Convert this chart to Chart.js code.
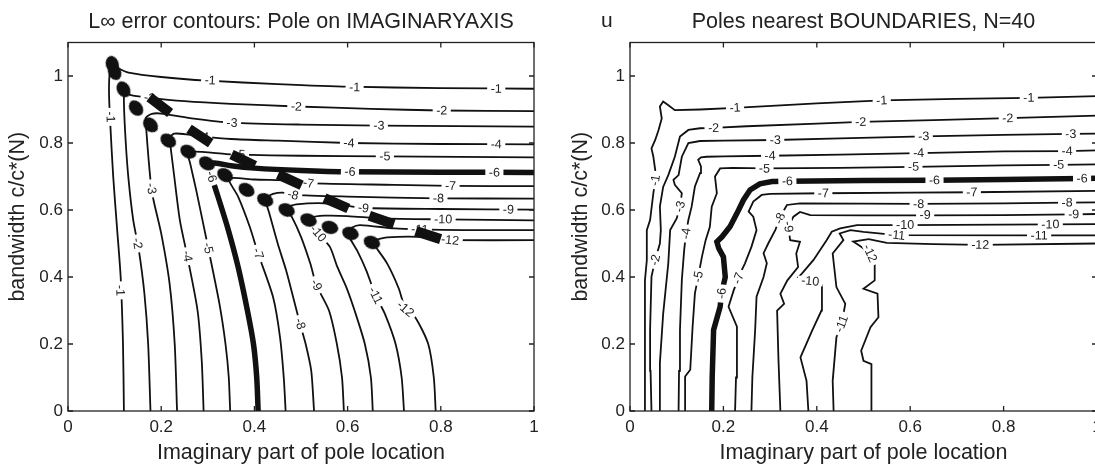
<!DOCTYPE html>
<html>
<head>
<meta charset="utf-8">
<script src="https://cdn.jsdelivr.net/npm/chart.js@4.4.1/dist/chart.umd.min.js"></script>
<style>
  html, body { margin: 0; padding: 0; background: #fff; overflow: hidden; width: 1095px; height: 464px; }
  #left { position: absolute; left: 0; top: 0; }
  #right { position: absolute; left: 548px; top: 0; }
  #u { position: absolute; left: 601px; top: 8px; font: 21px "Liberation Sans", Arial, sans-serif; color: #222; }
</style>
</head>
<body>
<canvas id="left" width="548" height="464"></canvas>
<canvas id="right" width="560" height="464"></canvas>
<div id="u">u</div>
<script>
// ===== axes =====
const X_TICKS = [0, 0.2, 0.4, 0.6, 0.8, 1];
const X_TICK_LABELS = ["0", "0.2", "0.4", "0.6", "0.8", "1"];
const Y_TICKS = [0, 0.2, 0.4, 0.6, 0.8, 1];
const Y_TICK_LABELS = ["0", "0.2", "0.4", "0.6", "0.8", "1"];
const LEVELS = [-1, -2, -3, -4, -5, -6, -7, -8, -9, -10, -11, -12];
const THICK_LEVEL = -6;

// ===== left panel: pole on imaginary axis =====
const L1 = [[0.12,0],[0.118,0.2],[0.113,0.4],[0.105,0.55],[0.097,0.7],[0.091,0.85],[0.088,0.95],[0.09,1.01],[0.1,1.025],[0.13,1.01],[0.2,0.997],[0.3,0.986],[0.45,0.976],[0.6,0.968],[0.8,0.964],[1,0.962]];
const L2 = [[0.177,0],[0.172,0.2],[0.164,0.35],[0.152,0.48],[0.14,0.57],[0.13,0.69],[0.124,0.8],[0.12,0.92],[0.122,0.95],[0.135,0.943],[0.175,0.935],[0.25,0.925],[0.35,0.917],[0.49,0.909],[0.65,0.902],[0.8,0.897],[1,0.895]];
const L3 = [[0.234,0],[0.229,0.2],[0.218,0.38],[0.2,0.53],[0.185,0.62],[0.179,0.664],[0.173,0.75],[0.168,0.84],[0.167,0.875],[0.18,0.887],[0.2,0.888],[0.27,0.873],[0.35,0.861],[0.5,0.855],[0.667,0.852],[1,0.849]];
const L4 = [[0.291,0],[0.287,0.15],[0.278,0.3],[0.256,0.462],[0.24,0.57],[0.228,0.7],[0.22,0.79],[0.218,0.815],[0.228,0.828],[0.26,0.825],[0.29,0.819],[0.35,0.812],[0.45,0.807],[0.603,0.8],[0.8,0.797],[1,0.796]];
const L5 = [[0.348,0],[0.345,0.1],[0.338,0.2],[0.325,0.32],[0.301,0.486],[0.29,0.56],[0.275,0.66],[0.262,0.74],[0.258,0.765],[0.268,0.774],[0.34,0.767],[0.37,0.765],[0.5,0.762],[0.68,0.76],[1,0.757]];
const L6 = [[0.408,0],[0.405,0.1],[0.398,0.2],[0.385,0.3],[0.365,0.43],[0.342,0.55],[0.315,0.67],[0.308,0.7],[0.302,0.735],[0.315,0.74],[0.35,0.732],[0.4,0.725],[0.5,0.718],[0.605,0.714],[0.8,0.713],[1,0.712]];
const L7 = [[0.467,0],[0.463,0.1],[0.455,0.22],[0.44,0.34],[0.408,0.47],[0.39,0.55],[0.365,0.64],[0.345,0.69],[0.355,0.696],[0.4,0.691],[0.476,0.688],[0.516,0.68],[0.7,0.675],[0.821,0.672],[1,0.671]];
const L8 = [[0.528,0],[0.522,0.12],[0.51,0.2],[0.498,0.26],[0.485,0.33],[0.468,0.42],[0.45,0.5],[0.432,0.59],[0.425,0.625],[0.43,0.64],[0.44,0.648],[0.46,0.652],[0.483,0.645],[0.6,0.64],[0.795,0.635],[1,0.634]];
const L9 = [[0.592,0],[0.588,0.1],[0.577,0.2],[0.56,0.3],[0.533,0.376],[0.52,0.44],[0.5,0.52],[0.48,0.58],[0.472,0.595],[0.475,0.61],[0.49,0.617],[0.55,0.62],[0.6,0.612],[0.634,0.606],[0.8,0.603],[1,0.601]];
const L10 = [[0.654,0],[0.65,0.1],[0.637,0.2],[0.615,0.3],[0.598,0.367],[0.578,0.43],[0.562,0.49],[0.537,0.53],[0.522,0.56],[0.525,0.578],[0.55,0.583],[0.6,0.582],[0.673,0.575],[0.805,0.572],[1,0.569]];
const L11 = [[0.721,0],[0.716,0.1],[0.703,0.2],[0.68,0.29],[0.66,0.345],[0.64,0.42],[0.62,0.48],[0.605,0.515],[0.6,0.53],[0.61,0.548],[0.627,0.555],[0.7,0.545],[0.755,0.542],[0.85,0.54],[1,0.54]];
const L12 = [[0.789,0],[0.785,0.1],[0.773,0.2],[0.745,0.28],[0.724,0.305],[0.71,0.365],[0.685,0.44],[0.66,0.49],[0.652,0.505],[0.66,0.51],[0.685,0.518],[0.75,0.52],[0.8,0.513],[0.82,0.51],[1,0.51]];
const LEFT_LINES = [L1, L2, L3, L4, L5, L6, L7, L8, L9, L10, L11, L12];

// round blobs and square dashes along the corner diagonal
const LEFT_BLOBS = [[0.095,1.035],[0.1,1.012],[0.119,0.96],[0.146,0.904],[0.177,0.854],[0.215,0.807],[0.258,0.774],[0.298,0.739],[0.337,0.704],[0.383,0.66],[0.423,0.63],[0.469,0.6],[0.516,0.57],[0.562,0.548],[0.606,0.53],[0.652,0.503]];
const LEFT_BARS = [[0.197,0.913],[0.283,0.821],[0.376,0.749],[0.476,0.69],[0.576,0.62],[0.673,0.57],[0.773,0.525]];

// contour labels: [level, x, y]
const LEFT_LABELS = [
  [-1,0.305,0.987],[-1,0.615,0.966],[-1,0.919,0.962],[-1,0.091,0.878],[-1,0.112,0.36],
  [-2,0.175,0.935],[-2,0.49,0.909],[-2,0.802,0.897],[-2,0.149,0.5],
  [-3,0.352,0.86],[-3,0.667,0.852],[-3,0.179,0.664],
  [-4,0.29,0.819],[-4,0.603,0.8],[-4,0.919,0.796],[-4,0.256,0.462],
  [-5,0.369,0.766],[-5,0.68,0.76],[-5,0.301,0.486],
  [-6,0.605,0.714],[-6,0.915,0.712],[-6,0.308,0.7],
  [-7,0.516,0.68],[-7,0.821,0.672],[-7,0.408,0.47],
  [-8,0.483,0.645],[-8,0.795,0.635],[-8,0.498,0.26],
  [-9,0.634,0.606],[-9,0.945,0.601],[-9,0.533,0.376],
  [-10,0.805,0.572],[-10,0.537,0.53],
  [-11,0.755,0.542],[-11,0.66,0.345],
  [-12,0.82,0.51],[-12,0.724,0.305]
];

// ===== right panel: poles nearest boundaries, N=40 =====
const R1 = [[0.032,0],[0.032,0.2],[0.032,0.39],[0.036,0.45],[0.036,0.54],[0.043,0.57],[0.05,0.65],[0.054,0.689],[0.054,0.719],[0.05,0.759],[0.046,0.784],[0.054,0.809],[0.061,0.838],[0.068,0.873],[0.064,0.909],[0.071,0.924],[0.08,0.915],[0.096,0.898],[0.15,0.9],[0.225,0.905],[0.4,0.918],[0.539,0.927],[0.7,0.932],[0.854,0.935],[1,0.94]];
const R2 = [[0.046,0],[0.044,0.12],[0.043,0.242],[0.046,0.401],[0.054,0.451],[0.064,0.5],[0.066,0.54],[0.064,0.61],[0.071,0.669],[0.082,0.704],[0.096,0.759],[0.107,0.819],[0.125,0.839],[0.15,0.844],[0.179,0.845],[0.25,0.85],[0.4,0.858],[0.494,0.863],[0.65,0.868],[0.809,0.874],[1,0.882]];
const R3 = [[0.064,0],[0.064,0.143],[0.071,0.29],[0.082,0.441],[0.086,0.54],[0.1,0.575],[0.107,0.61],[0.111,0.65],[0.096,0.675],[0.093,0.69],[0.104,0.704],[0.111,0.759],[0.125,0.8],[0.15,0.806],[0.2,0.807],[0.311,0.809],[0.45,0.814],[0.629,0.82],[0.8,0.824],[0.944,0.827],[1,0.828]];
const R4 = [[0.104,0],[0.105,0.12],[0.107,0.242],[0.111,0.391],[0.116,0.48],[0.12,0.53],[0.125,0.57],[0.132,0.61],[0.139,0.67],[0.15,0.71],[0.152,0.73],[0.146,0.75],[0.152,0.757],[0.164,0.759],[0.2,0.76],[0.3,0.762],[0.45,0.765],[0.618,0.77],[0.8,0.775],[0.936,0.776],[1,0.778]];
const R5 = [[0.118,0],[0.118,0.103],[0.129,0.123],[0.134,0.25],[0.139,0.351],[0.146,0.401],[0.154,0.46],[0.162,0.51],[0.171,0.55],[0.175,0.61],[0.186,0.65],[0.182,0.7],[0.193,0.724],[0.22,0.726],[0.288,0.724],[0.45,0.726],[0.607,0.729],[0.8,0.733],[0.918,0.735],[1,0.736]];
const R6 = [[0.175,0],[0.176,0.1],[0.179,0.242],[0.193,0.311],[0.196,0.351],[0.204,0.4],[0.2,0.46],[0.19,0.486],[0.186,0.505],[0.197,0.52],[0.214,0.55],[0.229,0.59],[0.243,0.63],[0.257,0.66],[0.278,0.678],[0.304,0.685],[0.337,0.686],[0.5,0.688],[0.652,0.689],[0.8,0.691],[0.968,0.694],[1,0.695]];
const R7 = [[0.225,0],[0.227,0.1],[0.229,0.252],[0.211,0.311],[0.222,0.36],[0.232,0.396],[0.239,0.42],[0.246,0.44],[0.26,0.49],[0.271,0.54],[0.264,0.58],[0.254,0.595],[0.264,0.625],[0.282,0.645],[0.3,0.648],[0.414,0.65],[0.6,0.652],[0.732,0.653],[1,0.657]];
const R8 = [[0.26,0],[0.262,0.1],[0.268,0.242],[0.271,0.341],[0.286,0.4],[0.293,0.441],[0.286,0.471],[0.296,0.5],[0.311,0.54],[0.321,0.575],[0.33,0.6],[0.336,0.615],[0.364,0.62],[0.5,0.619],[0.618,0.618],[0.8,0.62],[0.936,0.622],[1,0.623]];
const R9 = [[0.322,0],[0.318,0.15],[0.315,0.3],[0.33,0.32],[0.322,0.35],[0.337,0.39],[0.36,0.43],[0.356,0.47],[0.364,0.505],[0.343,0.51],[0.339,0.55],[0.35,0.58],[0.364,0.594],[0.386,0.585],[0.5,0.584],[0.632,0.584],[0.8,0.585],[0.95,0.587],[1,0.588]];
const R10 = [[0.382,0],[0.378,0.09],[0.365,0.16],[0.39,0.24],[0.41,0.3],[0.411,0.376],[0.396,0.396],[0.361,0.4],[0.368,0.41],[0.393,0.451],[0.421,0.51],[0.432,0.535],[0.45,0.545],[0.486,0.555],[0.589,0.555],[0.9,0.557],[1,0.558]];
const R11 = [[0.436,0],[0.434,0.09],[0.442,0.22],[0.453,0.26],[0.461,0.32],[0.442,0.37],[0.434,0.47],[0.457,0.51],[0.449,0.53],[0.472,0.54],[0.5,0.535],[0.571,0.525],[0.876,0.524],[1,0.524]];
const R12 = [[0.518,0],[0.517,0.14],[0.5,0.15],[0.495,0.18],[0.515,0.25],[0.532,0.28],[0.53,0.35],[0.5,0.365],[0.524,0.39],[0.524,0.44],[0.514,0.471],[0.495,0.49],[0.478,0.506],[0.511,0.513],[0.55,0.502],[0.65,0.498],[0.75,0.496],[1,0.5]];
const RIGHT_LINES = [R1, R2, R3, R4, R5, R6, R7, R8, R9, R10, R11, R12];

const RIGHT_LABELS = [
  [-1,0.225,0.905],[-1,0.539,0.927],[-1,0.854,0.935],[-1,0.054,0.689],
  [-2,0.179,0.845],[-2,0.494,0.863],[-2,0.809,0.874],[-2,0.054,0.451],
  [-3,0.311,0.809],[-3,0.629,0.82],[-3,0.944,0.827],[-3,0.107,0.61],
  [-4,0.3,0.762],[-4,0.618,0.77],[-4,0.936,0.776],[-4,0.12,0.53],
  [-5,0.288,0.724],[-5,0.607,0.729],[-5,0.918,0.735],[-5,0.146,0.401],
  [-6,0.337,0.686],[-6,0.652,0.689],[-6,0.968,0.694],[-6,0.196,0.351],
  [-7,0.414,0.65],[-7,0.732,0.653],[-7,0.232,0.396],
  [-8,0.618,0.618],[-8,0.936,0.622],[-8,0.321,0.575],
  [-9,0.632,0.584],[-9,0.95,0.587],[-9,0.339,0.55],
  [-10,0.589,0.555],[-10,0.9,0.557],[-10,0.386,0.388],
  [-11,0.571,0.525],[-11,0.876,0.524],[-11,0.453,0.26],
  [-12,0.75,0.496],[-12,0.514,0.471]
];

// ===== helpers =====
const INK = "#111";
const FONT = '"Liberation Sans", Arial, sans-serif';
const TICK = 5;

function pts(arr){ return arr.map(p => ({ x: p[0], y: p[1] })); }

// direction of a marker = direction between its neighbours, in pixels
function dirAngle(c){
  const d = c.dataset.data, i = c.dataIndex, ch = c.chart;
  const a = d[Math.max(0, i - 1)], b = d[Math.min(d.length - 1, i + 1)];
  const dx = ch.scales.x.getPixelForValue(b.x) - ch.scales.x.getPixelForValue(a.x);
  const dy = ch.scales.y.getPixelForValue(b.y) - ch.scales.y.getPixelForValue(a.y);
  return Math.atan2(dy, dx) * 180 / Math.PI;
}

function makeBlob(){
  const c = document.createElement("canvas");
  c.width = 18; c.height = 14;
  const g = c.getContext("2d");
  g.fillStyle = INK;
  g.beginPath();
  g.ellipse(9, 7, 8.5, 6.5, 0, 0, Math.PI * 2);
  g.fill();
  return c;
}
const BLOB = makeBlob();

// box round the plot with inward ticks on all sides, plus the y label
const framePlugin = {
  id: "frame",
  afterDraw(chart, args, opts){
    const { ctx, chartArea: a, scales: { x, y } } = chart;
    ctx.save();
    ctx.strokeStyle = "#222";
    ctx.lineWidth = 1.3;
    ctx.strokeRect(a.left, a.top, a.right - a.left, a.bottom - a.top);
    ctx.beginPath();
    x.ticks.forEach(t => {
      const px = x.getPixelForValue(t.value);
      ctx.moveTo(px, a.bottom); ctx.lineTo(px, a.bottom - TICK);
      ctx.moveTo(px, a.top); ctx.lineTo(px, a.top + TICK);
    });
    y.ticks.forEach(t => {
      const py = y.getPixelForValue(t.value);
      ctx.moveTo(a.left, py); ctx.lineTo(a.left + TICK, py);
      ctx.moveTo(a.right, py); ctx.lineTo(a.right - TICK, py);
    });
    ctx.stroke();
    // y axis label, set a little above the middle of the axis like the original
    ctx.translate(opts.yTitleX, (a.top + a.bottom) / 2 - 10);
    ctx.rotate(-Math.PI / 2);
    ctx.fillStyle = "#222";
    ctx.font = "21.5px " + FONT;
    ctx.textAlign = "center";
    ctx.textBaseline = "middle";
    ctx.fillText(opts.yTitle, 0, 0);
    ctx.restore();
  }
};

// inline contour labels, rotated along their line, with a white gap behind
function drawLabels(chart){
  const items = chart.options.plugins.clabels.items;
  const { ctx, scales: { x, y } } = chart;
  ctx.save();
  ctx.font = "12.5px " + FONT;
  ctx.textAlign = "center";
  ctx.textBaseline = "middle";
  items.forEach(([lev, lx, ly]) => {
    const ds = chart.data.datasets.find(d => d.kind === "contour" && d.level === lev);
    const px = x.getPixelForValue(lx), py = y.getPixelForValue(ly);
    let best = Infinity, ang = 0;
    for (let i = 1; i < ds.data.length; i++){
      const ax = x.getPixelForValue(ds.data[i-1].x), ay = y.getPixelForValue(ds.data[i-1].y);
      const bx = x.getPixelForValue(ds.data[i].x), by = y.getPixelForValue(ds.data[i].y);
      const vx = bx - ax, vy = by - ay, L2 = vx*vx + vy*vy || 1;
      const t = Math.max(0, Math.min(1, ((px-ax)*vx + (py-ay)*vy) / L2));
      const dd = Math.hypot(ax + t*vx - px, ay + t*vy - py);
      if (dd < best){ best = dd; ang = Math.atan2(vy, vx); }
    }
    if (ang > Math.PI / 2 + 0.01) ang -= Math.PI;
    if (ang < -Math.PI / 2 + 0.01) ang += Math.PI;
    const text = String(lev);
    const w = ctx.measureText(text).width;
    const h = lev === THICK_LEVEL ? 10 : 9;
    ctx.save();
    ctx.translate(px, py);
    ctx.rotate(ang);
    ctx.fillStyle = "#fff";
    ctx.fillRect(-w/2 - 3.5, -h/2, w + 7, h);
    ctx.fillStyle = "#222";
    ctx.fillText(text, 0, 0.5);
    ctx.restore();
  });
  ctx.restore();
}

const labelPlugin = {
  id: "clabels",
  beforeDraw(chart){ chart.$labelsDone = false; },
  beforeDatasetDraw(chart, args){
    if (!chart.$labelsDone && chart.data.datasets[args.index].kind === "marker"){
      drawLabels(chart); chart.$labelsDone = true;
    }
  },
  afterDatasetsDraw(chart){
    if (!chart.$labelsDone){ drawLabels(chart); chart.$labelsDone = true; }
  }
};

function contourSets(lines, tension){
  return lines.map((arr, i) => ({
    kind: "contour",
    level: LEVELS[i],
    data: pts(arr),
    showLine: true,
    borderColor: INK,
    borderWidth: LEVELS[i] === THICK_LEVEL ? 5.5 : 1.8,
    pointRadius: 0,
    tension,
    order: 2
  }));
}

function makeChart(id, cfg){
  return new Chart(document.getElementById(id), {
    type: "scatter",
    data: { datasets: cfg.datasets },
    options: {
      responsive: false,
      animation: false,
      events: [],
      layout: { autoPadding: false, padding: { left: 0, right: cfg.padRight, top: 0, bottom: 0 } },
      plugins: {
        legend: { display: false },
        tooltip: { enabled: false },
        title: {
          display: true, text: cfg.title, fullSize: false, color: "#222",
          font: { size: 21.5, weight: "normal", family: FONT, lineHeight: 1.2 },
          padding: { top: 9, bottom: 7.7 }
        },
        clabels: { items: cfg.labels },
        frame: { yTitle: "bandwidth c/c*(N)", yTitleX: cfg.yTitleX }
      },
      scales: {
        x: {
          type: "linear", min: 0, max: 1,
          afterBuildTicks: s => { s.ticks = X_TICKS.map(v => ({ value: v })); },
          afterFit: s => { s.height = 53; },
          ticks: { callback: (v, i) => X_TICK_LABELS[i], color: "#222", padding: 6, maxRotation: 0,
                   font: { size: 17, family: FONT } },
          grid: { display: false, drawTicks: false },
          border: { display: false },
          title: { display: true, text: "Imaginary part of pole location", color: "#222",
                   font: { size: 21.5, family: FONT, lineHeight: 1 }, padding: { top: 0, bottom: 0 } }
        },
        y: {
          type: "linear", min: 0, max: 1.1,
          afterBuildTicks: s => { s.ticks = Y_TICKS.map(v => ({ value: v })); },
          afterFit: s => { s.width = cfg.yWidth; },
          ticks: { callback: (v, i) => Y_TICK_LABELS[i], color: "#222", padding: 5,
                   font: { size: 17, family: FONT } },
          grid: { display: false, drawTicks: false },
          border: { display: false },
          title: { display: false }
        }
      }
    },
    plugins: [labelPlugin, framePlugin]
  });
}

// ===== left chart =====
makeChart("left", {
  title: "L\u221E error contours: Pole on IMAGINARYAXIS",
  padRight: 14, yWidth: 68, yTitleX: 18,
  labels: LEFT_LABELS,
  datasets: [
    { kind: "marker", data: pts(LEFT_BLOBS), showLine: false, pointStyle: BLOB, pointRadius: 6,
      rotation: dirAngle, order: 1 },
    { kind: "marker", data: pts(LEFT_BARS), showLine: false, pointStyle: "line", pointRadius: 13,
      pointBorderWidth: 10, borderColor: INK, pointBorderColor: INK, rotation: dirAngle, order: 1 },
    ...contourSets(LEFT_LINES, 0.25)
  ]
});

// ===== right chart =====
makeChart("right", {
  title: "Poles nearest BOUNDARIES, N=40",
  padRight: 11, yWidth: 82, yTitleX: 33,
  labels: RIGHT_LABELS,
  datasets: contourSets(RIGHT_LINES, 0)
});
</script>
</body>
</html>
